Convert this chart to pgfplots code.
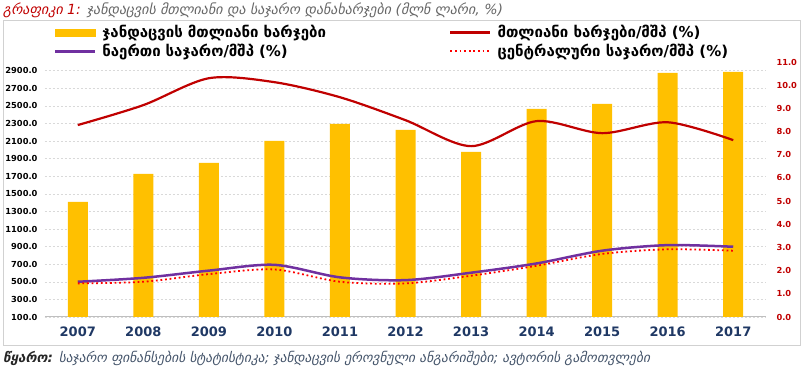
\documentclass[border=0pt]{standalone}
\usepackage{fontspec}
\setmainfont{DejaVu Sans}
\usepackage{pgfplots}
\pgfplotsset{compat=1.18}
\definecolor{barc}{HTML}{FFC000}
\definecolor{redl}{HTML}{C00000}
\definecolor{purp}{HTML}{7030A0}
\definecolor{dotr}{HTML}{FF0000}
\definecolor{navy}{HTML}{1F3864}
\definecolor{srcc}{HTML}{44546A}
\pgfplotsset{longline/.style={legend image code/.code={\draw[##1] (0pt,0pt) -- (40pt,0pt);}}}
\begin{document}
\begin{tikzpicture}[x=1pt,y=1pt]
\path[use as bounding box] (0,0) rectangle (807,370);
\draw[black!18] (3,25) rectangle (800,350);
\node[anchor=west, font=\itshape\fontsize{14}{16}\selectfont, inner sep=0] at (3,360) {\textcolor{redl}{გრაფიკი 1:} \textcolor{black!60}{ჯანდაცვის მთლიანი და საჯარო დანახარჯები (მლნ ლარი, \%)}};
\node[anchor=west, font=\itshape\fontsize{13.5}{15}\selectfont, inner sep=0, text=srcc] at (3,12) {\textbf{\textcolor{black!85}{წყარო:}} საჯარო ფინანსების სტატისტიკა; ჯანდაცვის ეროვნული ანგარიშები; ავტორის გამოთვლები};

\begin{axis}[at={(45pt,53pt)}, anchor=south west, scale only axis, width=721pt, height=255pt,
  xmin=-0.5, xmax=10.5, ymin=100, ymax=3000,
  axis x line*=bottom, axis y line*=left,
  y axis line style={draw=none},
  x axis line style={black!25, line width=1pt},
  tick style={draw=none},
  xtick={0,...,10}, xticklabels={2007,2008,2009,2010,2011,2012,2013,2014,2015,2016,2017},
  x tick label style={font=\bfseries\fontsize{13}{15}\selectfont, text=navy, yshift=-6pt},
  ytick={100,300,...,2900},
  y tick label style={font=\bfseries\fontsize{8.3}{10}\selectfont, text=black, xshift=-4pt},
  yticklabel style={/pgf/number format/.cd, fixed, fixed zerofill, precision=1, 1000 sep={}, assume math mode=true},
  ymajorgrids, grid style={black!15, dash pattern=on 2pt off 2pt, line width=0.6pt},
]
\addplot[ybar, bar width=20pt, fill=barc, draw=none] coordinates {
(0,1408) (1,1727) (2,1852) (3,2102) (4,2296) (5,2227) (6,1977) (7,2466) (8,2523) (9,2876) (10,2887)};
\end{axis}

\begin{axis}[at={(45pt,53pt)}, anchor=south west, scale only axis, width=721pt, height=255pt,
  xmin=-0.5, xmax=10.5, ymin=0, ymax=11,
  axis x line=none, axis y line*=right,
  y axis line style={draw=none},
  tick style={draw=none},
  ytick={0,...,11},
  y tick label style={font=\bfseries\fontsize{8.3}{10}\selectfont, text=redl, xshift=7pt},
  yticklabel style={/pgf/number format/.cd, fixed, fixed zerofill, precision=1, assume math mode=true},
  legend columns=2,
  legend cell align=left,
  legend style={at={(axis description cs:0.012,1.152)}, anchor=north west, draw=none, fill=none,
    font=\bfseries\fontsize{15}{17}\selectfont, inner sep=0pt,
    /tikz/column 2/.style={text width=345pt},
    /tikz/every odd column/.append style={column sep=4pt},
    row sep=1pt},
]
\addlegendimage{legend image code/.code={\fill[barc] (0pt,-3.5pt) rectangle (40pt,3.5pt);}}
\addlegendentry{ჯანდაცვის მთლიანი ხარჯები}
\addplot[redl, line width=2.2pt, smooth, longline] coordinates {
(0,8.28) (1,9.14) (2,10.30) (3,10.13) (4,9.48) (5,8.49) (6,7.37) (7,8.45) (8,7.93) (9,8.40) (10,7.63)};
\addlegendentry{მთლიანი ხარჯები/მშპ (\%)}
\addplot[purp, line width=2.5pt, smooth, longline] coordinates {
(0,1.52) (1,1.69) (2,2.00) (3,2.25) (4,1.71) (5,1.59) (6,1.91) (7,2.31) (8,2.86) (9,3.10) (10,3.03)};
\addlegendentry{ნაერთი საჯარო/მშპ (\%)}
\addplot[dotr, line width=1.8pt, smooth, dash pattern=on 1.8pt off 2.8pt, longline] coordinates {
(0,1.45) (1,1.52) (2,1.85) (3,2.05) (4,1.52) (5,1.45) (6,1.78) (7,2.21) (8,2.72) (9,2.92) (10,2.86)};
\addlegendentry{ცენტრალური საჯარო/მშპ (\%)}
\end{axis}
\end{tikzpicture}
\end{document}
